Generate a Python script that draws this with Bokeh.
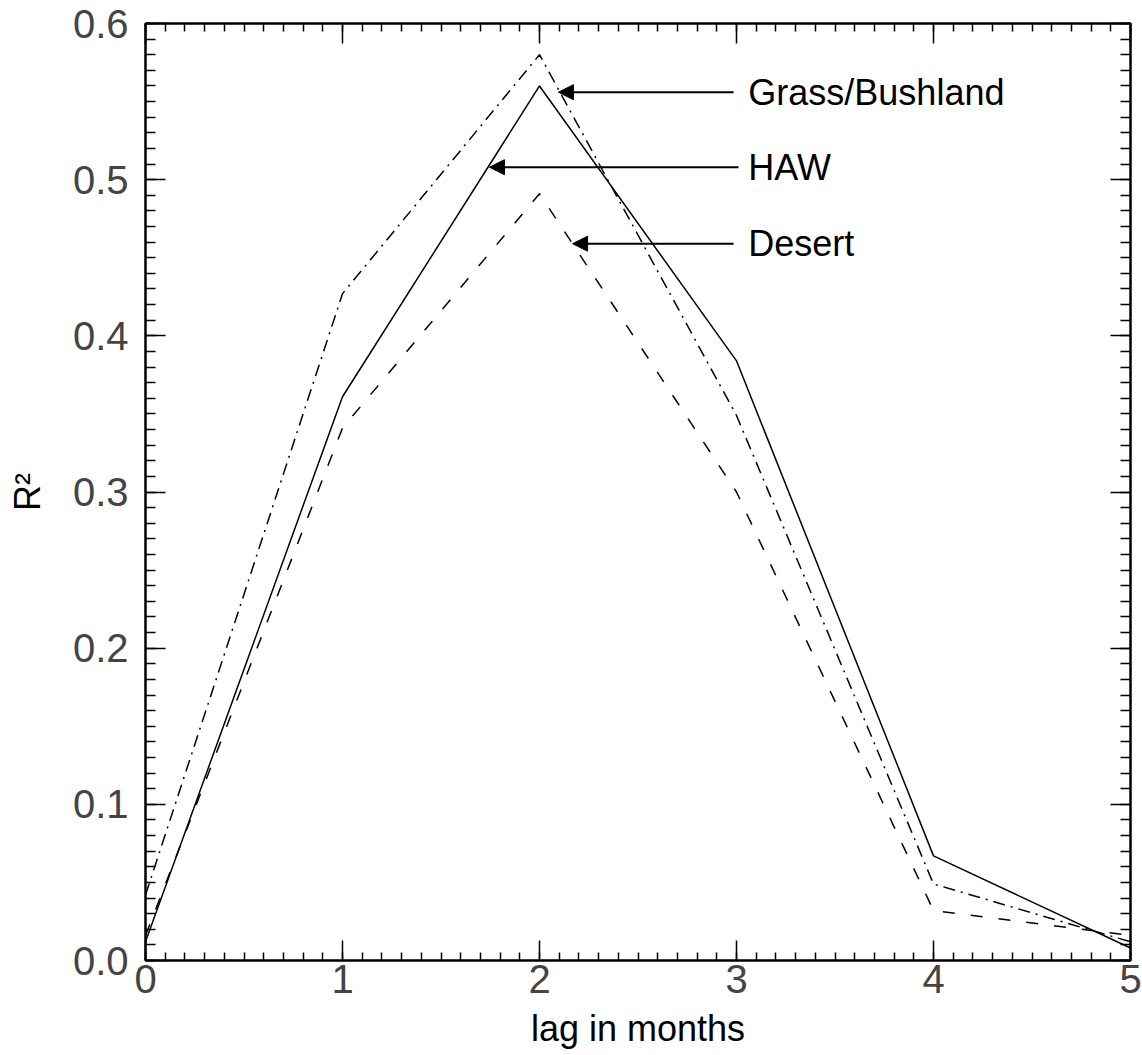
from bokeh.plotting import figure
from bokeh.models import (LinearAxis, FixedTicker, PrintfTickFormatter, Arrow,
                          NormalHead, CustomJSTickFormatter, Range1d, Label)
from bokeh.embed import file_html
from bokeh.resources import INLINE

# ---- data ----
lags = [0, 1, 2, 3, 4, 5]
haw = [0.012, 0.361, 0.560, 0.384, 0.067, 0.008]
grass = [0.042, 0.427, 0.580, 0.349, 0.049, 0.012]
desert = [0.016, 0.341, 0.491, 0.300, 0.032, 0.016]
x_ticks = [0, 1, 2, 3, 4, 5]
y_ticks = [0.0, 0.1, 0.2, 0.3, 0.4, 0.5, 0.6]

FONT = "Liberation Sans"

p = figure(width=1142, height=1055, x_range=Range1d(0, 5), y_range=Range1d(0, 0.6),
           output_backend="svg", toolbar_location=None,
           min_border_left=145, min_border_right=12, min_border_top=23, min_border_bottom=95,
           x_axis_type=None, y_axis_type=None)
p.grid.visible = False
p.outline_line_color = "black"
p.outline_line_width = 2
p.background_fill_color = "white"
p.border_fill_color = "white"


def style_axis(ax, minor_in):
    ax.axis_line_color = "black"
    ax.axis_line_width = 2
    ax.major_tick_in = 20
    ax.major_tick_out = 0
    ax.minor_tick_in = minor_in
    ax.minor_tick_out = 0
    ax.major_tick_line_color = "black"
    ax.minor_tick_line_color = "black"
    ax.major_tick_line_width = 1.5
    ax.minor_tick_line_width = 1.5
    ax.major_label_text_font = FONT
    ax.major_label_text_font_size = "40px"
    ax.major_label_text_color = "#444444"
    ax.axis_label_text_font = FONT
    ax.axis_label_text_font_size = "36px"
    ax.axis_label_text_font_style = "normal"
    ax.axis_label_text_color = "black"


x_minor = [round(i * 0.1, 2) for i in range(51)]
y_minor = [round(i * 0.01, 3) for i in range(61)]
xt = FixedTicker(ticks=x_ticks, minor_ticks=x_minor)
yt = FixedTicker(ticks=y_ticks, minor_ticks=y_minor)
blank = CustomJSTickFormatter(code="return ''")

xb = LinearAxis(ticker=xt, axis_label="lag in months")
style_axis(xb, 8)
xb.major_label_standoff = 4
xb.axis_label_standoff = 12
p.add_layout(xb, "below")

xa = LinearAxis(ticker=xt, formatter=blank)
style_axis(xa, 8)
xa.major_label_standoff = 0
p.add_layout(xa, "above")

yl = LinearAxis(ticker=yt, formatter=PrintfTickFormatter(format="%.1f"), axis_label="R²")
style_axis(yl, 10)
yl.major_label_standoff = 17
yl.axis_label_standoff = 22
p.add_layout(yl, "left")

yr = LinearAxis(ticker=yt, formatter=blank)
style_axis(yr, 10)
yr.major_label_standoff = 0
p.add_layout(yr, "right")

# ---- series ----
p.line(lags, haw, line_color="black", line_width=1.5)
p.line(lags, grass, line_color="black", line_width=1.5, line_dash="12 6 2 6")
p.line(lags, desert, line_color="black", line_width=1.5, line_dash="12 16")

# ---- annotations ----
annots = [
    ("Grass/Bushland", 2.985, 2.096, 0.556),
    ("HAW", 3.010, 1.746, 0.508),
    ("Desert", 2.985, 2.168, 0.459),
]
for name, xs, xe, yy in annots:
    p.add_layout(Arrow(end=NormalHead(size=15, fill_color="black", line_color="black"),
                       x_start=xs, y_start=yy, x_end=xe, y_end=yy,
                       line_color="black", line_width=2))
    p.add_layout(Label(x=3.06, y=yy, text=name, text_font=FONT, text_font_size="36px",
                       text_baseline="middle", text_align="left", text_color="black"))

open("out.html", "w").write(file_html(p, INLINE))
